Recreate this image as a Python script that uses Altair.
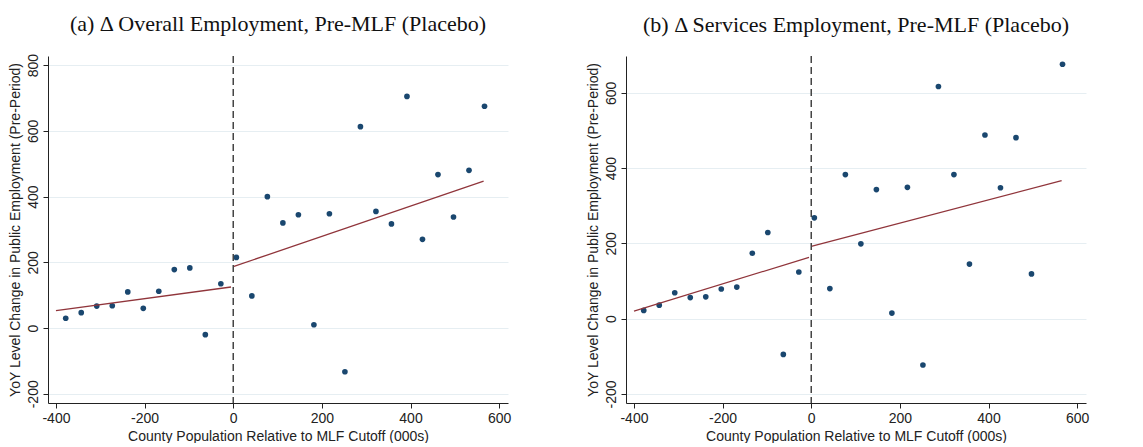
import altair as alt
import pandas as pd

x_a = [-378, -343, -308, -273, -238, -203, -168, -133, -98, -63, -28, 7, 42, 77,
       112, 147, 182, 217, 252, 287, 322, 357, 392, 427, 462, 497, 532, 567]
y_a = [30, 47, 67, 68, 110, 60, 112, 178, 183, -20, 135, 215, 98, 400,
       320, 345, 10, 348, -133, 613, 355, 317, 705, 270, 467, 338, 480, 675]
x_b = [-378, -343, -308, -273, -238, -203, -168, -133, -98, -63, -28, 7, 42, 77,
       112, 147, 182, 217, 252, 287, 322, 357, 392, 427, 462, 497, 567]
y_b = [22, 36, 69, 56, 58, 79, 84, 174, 229, -95, 124, 268, 80, 383,
       199, 343, 15, 349, -123, 617, 383, 145, 488, 348, 481, 119, 676]

# fitted lines: (segment, x, y)
fit_a = [("L", -400, 53), ("L", -5, 125), ("R", 0, 187), ("R", 565, 447)]
fit_b = [("L", -400, 20), ("L", -5, 163), ("R", 0, 192), ("R", 565, 367)]

titles = ["(a)  Δ Overall Employment, Pre-MLF (Placebo)",
          "(b)  Δ Services Employment, Pre-MLF (Placebo)"]
y_domains = [[-228, 828], [-224, 698]]
y_ticks = [[-200, 0, 200, 400, 600, 800], [-200, 0, 200, 400, 600]]

hyphen = "replace(datum.label, '\u2212', '-')"


def panel(xs, ys, fit, title, ydom, yticks):
    pts = pd.DataFrame({"x": xs, "y": ys})
    fdf = pd.DataFrame(fit, columns=["seg", "x", "y"])
    xsc = alt.Scale(domain=[-418, 620], nice=False, zero=False)
    ysc = alt.Scale(domain=ydom, nice=False, zero=False)
    xax = alt.Axis(title="County Population Relative to MLF Cutoff (000s)",
                   values=[-400, -200, 0, 200, 400, 600], grid=False,
                   labelExpr=hyphen)
    yax = alt.Axis(title="YoY Level Change in Public Employment (Pre-Period)",
                   values=yticks, labelAngle=-90, labelAlign="center",
                   labelBaseline="bottom", gridColor="#e6eef2", labelExpr=hyphen)
    dots = alt.Chart(pts).mark_circle(size=32, color="#1a476f", opacity=1).encode(
        x=alt.X("x:Q", scale=xsc, axis=xax),
        y=alt.Y("y:Q", scale=ysc, axis=yax),
    )
    lines = alt.Chart(fdf).mark_line(color="#90353b", strokeWidth=1.3).encode(
        x="x:Q", y="y:Q", detail="seg:N")
    cut = alt.Chart(pd.DataFrame({"x": [0]})).mark_rule(
        color="#444444", strokeDash=[7, 4], strokeWidth=1.5).encode(x="x:Q")
    return alt.layer(dots, lines, cut).properties(
        width=460, height=347,
        title=alt.TitleParams(title, font="Liberation Serif", fontSize=22,
                              fontWeight="normal", anchor="middle", color="#111",
                              offset=18))


charts = [panel(x_a, y_a, fit_a, titles[0], y_domains[0], y_ticks[0]),
          panel(x_b, y_b, fit_b, titles[1], y_domains[1], y_ticks[1])]

chart = alt.hconcat(*charts, spacing=75, padding={"left": 0, "top": 4, "right": 5, "bottom": 0}
).configure_view(stroke=None).configure_axis(
    labelFont="Liberation Sans", titleFont="Liberation Sans", labelFontSize=14,
    titleFontSize=14, titleFontWeight="normal", labelColor="#222", titleColor="#222",
    domainColor="#222", tickColor="#222", labelPadding=3, titlePadding=4
)

chart.save("out.html", embed_options={"renderer": "svg", "actions": False})
